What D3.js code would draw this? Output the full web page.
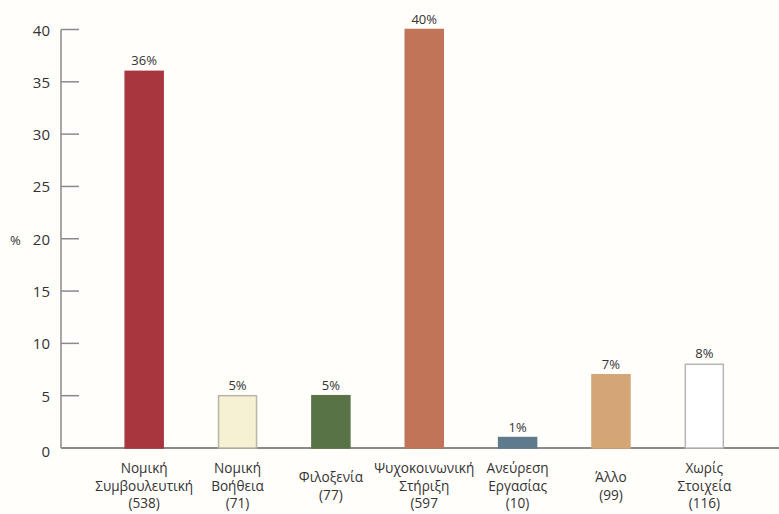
<!DOCTYPE html>
<html><head><meta charset="utf-8">
<script src="https://cdn.jsdelivr.net/npm/d3@7"></script>
<style>body{margin:0;background:#fffefb;}svg{display:block;font-family:"Open Sans","Noto Sans",sans-serif;}</style>
</head><body><svg id="c" width="779" height="514"></svg>
<script>
const categories = [["Νομική","Συμβουλευτική","(538)"],["Νομική","Βοήθεια","(71)"],["Φιλοξενία","(77)"],["Ψυχοκοινωνική","Στήριξη","(597"],["Ανεύρεση","Εργασίας","(10)"],["Άλλο","(99)"],["Χωρίς","Στοιχεία","(116)"]];
const values = [36,5,5,40,1,7,8];
const valueLabels = ["36%","5%","5%","40%","1%","7%","8%"];
const colors = ["#a8363f","#f6f1d3","#587447","#c07458","#5f7b8b","#d5a675","#ffffff"];
const strokes = ["#a8363f","#b9b6a6","#587447","#c07458","#5f7b8b","#d5a675","#b5b5b5"];
const yTicks = [0,5,10,15,20,25,30,35,40];

const svg = d3.select("#c");
const x = d3.scaleBand().domain(d3.range(values.length)).range([97.5,751]).paddingInner(0.593).paddingOuter(0.2965);
const y = d3.scaleLinear().domain([0,40]).range([448,29.5]);

svg.append("line").attr("x1",61).attr("x2",779).attr("y1",y(0)).attr("y2",y(0)).attr("stroke","#8a8a8a").attr("stroke-width",2);
svg.append("line").attr("x1",61).attr("x2",61).attr("y1",y(40)).attr("y2",y(0)).attr("stroke","#8a8a8a").attr("stroke-width",1.5);
yTicks.forEach(t=>{
  if(t>0) svg.append("line").attr("x1",61).attr("x2",79).attr("y1",y(t)).attr("y2",y(t)).attr("stroke","#8a8a8a").attr("stroke-width",1.5);
  svg.append("text").attr("x",50).attr("y",y(t)+(t===0?9:6)).attr("text-anchor","end").attr("font-size",15).attr("fill","#333").text(t);
});
svg.append("text").attr("x",10).attr("y",y(20)+6).attr("font-size",13).attr("fill","#333").text("%");

values.forEach((v,i)=>{
  const bx = x(i), bw = x.bandwidth();
  svg.append("rect").attr("x",bx).attr("y",y(v)).attr("width",bw).attr("height",y(0)-y(v))
    .attr("fill",colors[i]).attr("stroke",strokes[i]).attr("stroke-width",1.5);
  svg.append("text").attr("x",bx+bw/2).attr("y",y(v)-6).attr("text-anchor","middle").attr("font-size",13).attr("fill","#333").text(valueLabels[i]);
  const lines = categories[i];
  const startY = lines.length===3 ? 473 : 482;
  lines.forEach((l,j)=>{
    svg.append("text").attr("x",bx+bw/2).attr("y",startY+j*17.5).attr("text-anchor","middle").attr("font-size",13.6).attr("fill","#333").text(l);
  });
});
</script></body></html>
